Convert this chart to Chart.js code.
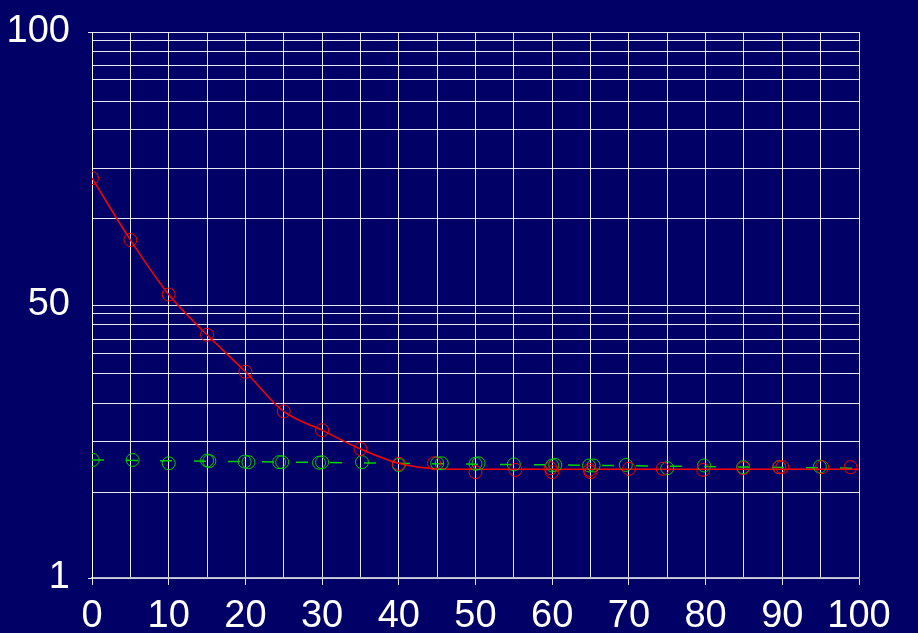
<!DOCTYPE html>
<html>
<head>
<meta charset="utf-8">
<script src="https://cdn.jsdelivr.net/npm/chart.js@4/dist/chart.umd.min.js"></script>
<style>
  html, body { margin: 0; padding: 0; background: #000066; }
  #wrap { width: 918px; height: 633px; position: relative; }
</style>
</head>
<body>
<div id="wrap"><canvas id="chart"></canvas></div>
<script>
/* DATA */
// red measurements
const redX = [0, 5, 10, 15, 20, 25, 30, 35, 40, 44.6, 50, 55.2, 59.8, 64.9, 70, 74.4, 79.7, 84.9, 90, 95.2, 98.9];
const redY = [73.5, 62.3, 52.4, 45.1, 38.4, 31.2, 27.8, 24.4, 21.7, 21.8, 20.2, 20.6, 20.9, 20.6, 20.8, 20.8, 20.6, 20.9, 21.1, 21.1, 21.1];
// red repeat points (overlapping circles)
const redRepX = [60, 65, 89.6];
const redRepY = [20.2, 20.2, 21.1];
// red fitted curve
const redFitX = [0, 5, 10, 15, 20, 25, 30, 35, 40, 45, 50, 60, 70, 80, 90, 100];
const redFitY = [73.5, 62.3, 52.4, 45.1, 38.4, 31.2, 27.8, 24.4, 21.8, 20.8, 20.7, 20.7, 20.7, 20.7, 20.7, 20.7];

// green measurements
const greenX = [0.1, 5.3, 10, 15, 19.9, 24.8, 30, 35.2, 40, 45, 50, 55, 60, 64.8, 69.6, 75, 79.8, 84.9, 89.6, 94.9];
const greenY = [22.4, 22.4, 21.8, 22.3, 22.1, 22.0, 22.0, 22.0, 21.5, 21.8, 21.7, 21.6, 21.4, 21.4, 21.5, 20.9, 21.4, 21.1, 21.1, 21.2];
// green repeat points
const greenRepX = [15.3, 20.4, 24.4, 29.6, 45.6, 50.4, 60.4, 65.4];
const greenRepY = [22.2, 22.0, 22.0, 21.9, 21.8, 21.8, 21.5, 21.4];
// green fitted line
const greenFitX = [0, 20, 40, 60, 80, 100];
const greenFitY = [22.4, 22.1, 21.8, 21.5, 21.2, 20.9];

// axes
const yGridValues = [1, 16.5, 25.7, 32.7, 38.0, 41.7, 44.3, 46.9, 48.9, 50.5,
                     66.1, 75.3, 82.3, 87.4, 91.3, 93.9, 96.4, 98.5, 100];
const yLabelValues = [1, 50.5, 100];
const yLabels = ['1', '50', '100'];
const xMin = 0, xMax = 100, xStep = 5, xLabelStep = 10;

const pts = (xs, ys) => xs.map((x, i) => ({ x: x, y: ys[i] }));

const RED = '#ff0000';
const GREEN = '#00d000';
const GRID = 'rgba(255,255,255,0.9)';
const FONT = { family: '"Liberation Sans", Arial, sans-serif', size: 38 };

const bgPlugin = {
  id: 'bg',
  beforeDraw(chart) {
    const c = chart.ctx;
    c.save();
    c.fillStyle = '#000066';
    c.fillRect(0, 0, chart.width, chart.height);
    c.restore();
  },
};

const markerStyle = (color) => ({
  showLine: false,
  pointStyle: 'circle',
  pointRadius: 6.5,
  pointBorderWidth: 1,
  pointBorderColor: color,
  pointBackgroundColor: 'rgba(0,0,0,0)',
  borderColor: color,
});

new Chart(document.getElementById('chart'), {
  type: 'scatter',
  data: {
    datasets: [
      { label: 'red', data: pts(redX, redY), ...markerStyle(RED) },
      { label: 'red repeat', data: pts(redRepX, redRepY), ...markerStyle(RED) },
      { label: 'green', data: pts(greenX, greenY), ...markerStyle(GREEN) },
      { label: 'green repeat', data: pts(greenRepX, greenRepY), ...markerStyle(GREEN) },
      {
        label: 'red fit', data: pts(redFitX, redFitY),
        showLine: true, pointRadius: 0, borderColor: RED, borderWidth: 1.5,
        cubicInterpolationMode: 'monotone',
      },
      {
        label: 'green fit', data: pts(greenFitX, greenFitY),
        showLine: true, pointRadius: 0, borderColor: GREEN, borderWidth: 1.5,
        borderDash: [12, 22],
      },
    ],
  },
  options: {
    responsive: true,
    maintainAspectRatio: false,
    animation: false,
    layout: { padding: { left: 0, top: 32, right: 59, bottom: 0 } },
    plugins: {
      legend: { display: false },
      tooltip: { enabled: false },
    },
    scales: {
      x: {
        type: 'linear',
        min: xMin,
        max: xMax,
        afterFit(scale) { scale.height = 55; },
        grid: {
          color: GRID,
          lineWidth: 1,
          tickLength: 7,
          tickColor: (ctx) => (ctx.tick && ctx.tick.value % xLabelStep === 0 ? GRID : 'rgba(0,0,0,0)'),
        },
        border: { color: '#b8b8cc', width: 1.5 },
        ticks: {
          stepSize: xStep,
          autoSkip: false,
          maxRotation: 0,
          padding: 9,
          color: '#ffffff',
          font: FONT,
          callback: (v) => (v % xLabelStep === 0 ? String(v) : ''),
        },
      },
      y: {
        type: 'linear',
        min: 1,
        max: 100,
        afterFit(scale) {
          scale.width = 92;
          // let the layout padding decide where the plot starts
          scale.paddingTop = 0;
          scale.paddingBottom = 0;
        },
        afterBuildTicks(scale) {
          scale.ticks = yGridValues.map((v) => ({ value: v }));
        },
        grid: {
          color: GRID,
          lineWidth: 1,
          tickLength: 4,
          tickColor: (ctx) => (ctx.tick && (ctx.tick.value === 1 || ctx.tick.value === 100) ? GRID : 'rgba(0,0,0,0)'),
        },
        border: { color: GRID },
        ticks: {
          autoSkip: false,
          padding: 18,
          color: '#ffffff',
          font: FONT,
          callback: (v) => {
            const i = yLabelValues.indexOf(v);
            return i >= 0 ? yLabels[i] : '';
          },
        },
      },
    },
  },
  plugins: [bgPlugin],
});
</script>
</body>
</html>
